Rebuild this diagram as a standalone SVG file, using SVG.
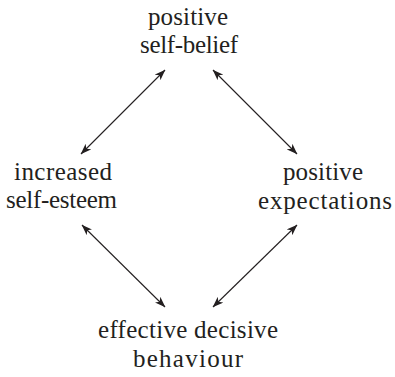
<svg xmlns="http://www.w3.org/2000/svg" width="395" height="377" viewBox="0 0 395 377">
<defs>
<style>
text{font-family:"Liberation Serif","Times New Roman",serif;font-size:25px;fill:#231f20;text-anchor:middle}
.c line{stroke:#231f20;stroke-width:1.1;marker-start:url(#ah);marker-end:url(#ah)}
</style>
<marker id="ah" viewBox="0 0 11 8" refX="10.5" refY="4" markerWidth="11" markerHeight="8" markerUnits="userSpaceOnUse" orient="auto-start-reverse">
<path d="M0,0 L11,4 L0,8 L3,4 z" fill="#231f20"/>
</marker>
</defs>
<rect width="395" height="377" fill="#fff"/>
<g class="c" id="connectors">
<line x1="81" y1="154" x2="165" y2="70"/>
<line x1="213" y1="70" x2="297" y2="154"/>
<line x1="82" y1="225" x2="165" y2="307"/>
<line x1="297" y1="225" x2="213" y2="307"/>
</g>
<g id="top">
<text x="188" y="25" textLength="80" lengthAdjust="spacing">positive</text>
<text x="189" y="53" textLength="98" lengthAdjust="spacing">self-belief</text>
</g>
<g id="left">
<text x="63" y="180" textLength="98" lengthAdjust="spacing">increased</text>
<text x="61.5" y="208" textLength="111" lengthAdjust="spacing">self-esteem</text>
</g>
<g id="right">
<text x="323" y="180" textLength="80" lengthAdjust="spacing">positive</text>
<text x="325" y="209" textLength="134" lengthAdjust="spacing">expectations</text>
</g>
<g id="bottom">
<text x="188" y="338" textLength="180" lengthAdjust="spacing">effective decisive</text>
<text x="188" y="367" textLength="110" lengthAdjust="spacing">behaviour</text>
</g>
</svg>
